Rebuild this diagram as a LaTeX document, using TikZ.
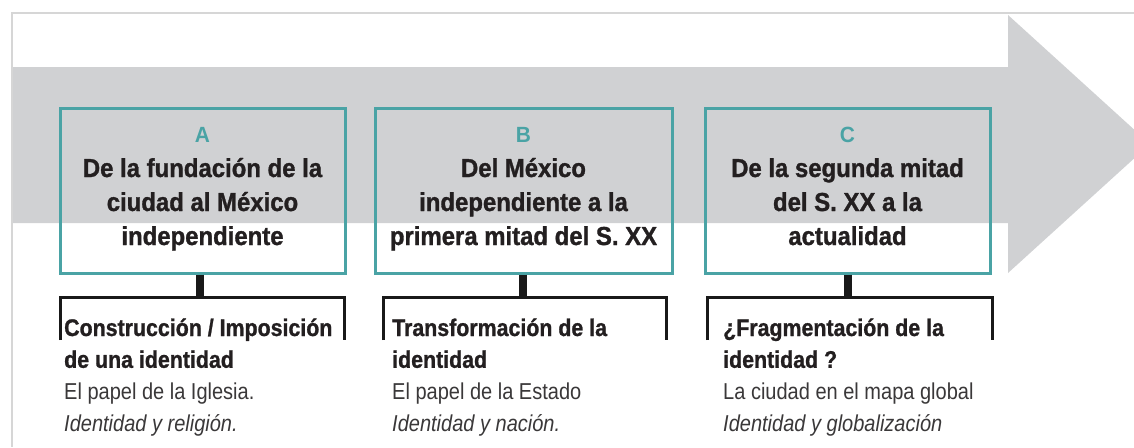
\documentclass[tikz,border=0pt]{standalone}
\usepackage{fontspec}
\setmainfont{Liberation Sans}
\newfontfamily\titlefont{Liberation Sans}[FakeStretch=0.92,FakeBold=1.2]
\newfontfamily\headfont{Liberation Sans}[FakeStretch=0.89,FakeBold=1]
\newfontfamily\letterfont{Liberation Sans}[FakeStretch=0.95]
\newfontfamily\notefont{Liberation Sans}[FakeStretch=0.87]
\definecolor{bandgray}{HTML}{D0D1D3}
\definecolor{framegray}{HTML}{D6D6D6}
\definecolor{tealc}{HTML}{4AA3A5}
\definecolor{inkc}{HTML}{231F20}
\definecolor{notec}{HTML}{3A3839}
\tikzset{
  periodbox/.style={draw=tealc, line width=3pt, minimum height=165pt, inner sep=0pt},
  letterlab/.style={anchor=base, inner sep=0pt, text=tealc, font=\letterfont\bfseries\fontsize{22}{22}\selectfont},
  titletext/.style={anchor=base, inner sep=0pt, text=inkc},
  subtext/.style={anchor=base west, inner sep=0pt, text=inkc},
  stemline/.style={draw=black!90, line width=8pt},
  bracketline/.style={draw=black!90, line width=3pt}
}
\newcommand{\ttl}[2]{\parbox[t]{#1}{\centering\titlefont\bfseries\fontsize{26}{34}\selectfont #2}}
\newcommand{\sub}[4]{\parbox[t]{290pt}{\raggedright\fontsize{24}{31.8}\selectfont{\headfont\bfseries #1}\\{\notefont\fontsize{23}{31.8}\selectfont\color{notec}#2}\\{\notefont\itshape\fontsize{23}{31.8}\selectfont\color{notec}#3}#4}}
\begin{document}
\begin{tikzpicture}[x=1pt,y=-1pt]
\useasboundingbox (0,0) rectangle (1134,447);
\fill[white] (0,0) rectangle (1134,447);
% arrow band
\begin{scope}
\clip (0,0) rectangle (1134,447);
\fill[bandgray] (12,67) -- (1008,67) -- (1008,15) -- (1150,144) -- (1008,273) -- (1008,223) -- (12,223) -- cycle;
\end{scope}
% frame
\draw[framegray, line width=2pt] (1134,13) -- (12,13) -- (12,447);
% boxes
\node[periodbox, minimum width=285pt] (boxA) at (202.5,190.5) {};
\node[periodbox, minimum width=297pt] (boxB) at (523.5,190.5) {};
\node[periodbox, minimum width=285pt] (boxC) at (847.5,190.5) {};
% letters
\node[letterlab] (labA) at (202.5,142) {A};
\node[letterlab] (labB) at (523.5,142) {B};
\node[letterlab] (labC) at (847.5,142) {C};
% titles
\node[titletext] (titA) at (202.5,177) {\ttl{280pt}{De la fundación de la\\ciudad al México\\independiente}};
\node[titletext] (titB) at (523.5,177) {\ttl{292pt}{Del México\\independiente a la\\primera mitad del S. XX}};
\node[titletext] (titC) at (847.5,177) {\ttl{280pt}{De la segunda mitad\\del S. XX a la\\actualidad}};
% brackets
\coordinate (blA) at (60,340); \coordinate (btlA) at (60,297); \coordinate (btrA) at (344,297); \coordinate (brA) at (344,340);
\coordinate (blB) at (383,340); \coordinate (btlB) at (383,297); \coordinate (btrB) at (666,297); \coordinate (brB) at (666,340);
\coordinate (blC) at (707,340); \coordinate (btlC) at (707,297); \coordinate (btrC) at (992,297); \coordinate (brC) at (992,340);
\draw[bracketline] (blA) -- (btlA) -- (btrA) -- (brA);
\draw[bracketline] (blB) -- (btlB) -- (btrB) -- (brB);
\draw[bracketline] (blC) -- (btlC) -- (btrC) -- (brC);
\coordinate (sA) at (200,297); \coordinate (sB) at (523,297); \coordinate (sC) at (848,297);
\draw[stemline] (boxA.south -| sA) -- (sA);
\draw[stemline] (boxB.south -| sB) -- (sB);
\draw[stemline] (boxC.south -| sC) -- (sC);
% sub texts
\node[subtext] (txtA) at (64,336) {\sub{Construcción / Imposición\\de una identidad}{El papel de la Iglesia.}{Identidad y religión.}{}};
\node[subtext] (txtB) at (392,336) {\sub{Transformación de la\\identidad}{El papel de la Estado}{Identidad y nación.}{}};
\node[subtext] (txtC) at (723,336) {\sub{¿Fragmentación de la\\identidad ?}{La ciudad en el mapa global}{Identidad y globalización}{}};
\end{tikzpicture}
\end{document}
